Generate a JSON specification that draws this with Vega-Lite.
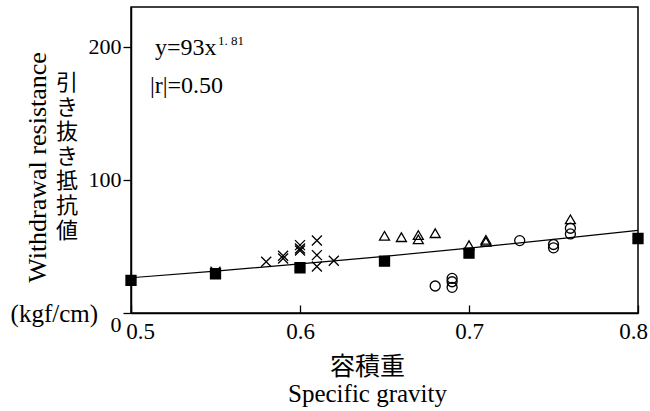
{
  "$schema": "https://vega.github.io/schema/vega-lite/v6.json",
  "autosize": "none",
  "width": 507,
  "height": 306,
  "padding": {"left": 131, "top": 7, "right": 12, "bottom": 98},
  "background": "white",
  "config": {
    "view": {"stroke": "black", "strokeWidth": 1.5},
    "axis": {"grid": false, "domainColor": "black", "domainWidth": 1.5, "tickColor": "black", "tickWidth": 1.3, "labelColor": "black", "titleColor": "black", "labelFont": "Liberation Serif", "titleFont": "Liberation Serif, Noto Sans CJK JP", "titleFontWeight": "normal"}
  },
  "datasets": {
    "pts": [
      {"sg": 0.5, "wr": 24.5, "group": "A"},
      {"sg": 0.55, "wr": 31, "group": "B"},
      {"sg": 0.55, "wr": 29.5, "group": "A"},
      {"sg": 0.6, "wr": 34, "group": "A"},
      {"sg": 0.65, "wr": 39, "group": "A"},
      {"sg": 0.70, "wr": 45, "group": "A"},
      {"sg": 0.80, "wr": 56, "group": "A"},
      {"sg": 0.58, "wr": 38.5, "group": "B"},
      {"sg": 0.59, "wr": 43, "group": "B"},
      {"sg": 0.59, "wr": 41, "group": "B"},
      {"sg": 0.60, "wr": 51, "group": "B"},
      {"sg": 0.60, "wr": 48.5, "group": "B"},
      {"sg": 0.60, "wr": 47, "group": "B"},
      {"sg": 0.61, "wr": 54.5, "group": "B"},
      {"sg": 0.61, "wr": 43.5, "group": "B"},
      {"sg": 0.61, "wr": 35, "group": "B"},
      {"sg": 0.62, "wr": 39.3, "group": "B"},
      {"sg": 0.65, "wr": 58, "group": "C"},
      {"sg": 0.66, "wr": 57, "group": "C"},
      {"sg": 0.67, "wr": 58.6, "group": "C"},
      {"sg": 0.67, "wr": 55.4, "group": "C"},
      {"sg": 0.68, "wr": 60, "group": "C"},
      {"sg": 0.70, "wr": 51, "group": "C"},
      {"sg": 0.71, "wr": 55, "group": "C"},
      {"sg": 0.71, "wr": 53.6, "group": "C"},
      {"sg": 0.76, "wr": 70.4, "group": "C"},
      {"sg": 0.73, "wr": 54.4, "group": "D"},
      {"sg": 0.75, "wr": 51.5, "group": "D"},
      {"sg": 0.75, "wr": 49, "group": "D"},
      {"sg": 0.76, "wr": 63.7, "group": "D"},
      {"sg": 0.76, "wr": 59.4, "group": "D"},
      {"sg": 0.68, "wr": 20.3, "group": "D"},
      {"sg": 0.69, "wr": 26, "group": "D"},
      {"sg": 0.69, "wr": 23.5, "group": "D"},
      {"sg": 0.69, "wr": 19.3, "group": "D"}
    ],
    "fit": [
      {"sg": 0.5, "wr": 26.5},
      {"sg": 0.55, "wr": 31.5},
      {"sg": 0.6, "wr": 36.9},
      {"sg": 0.65, "wr": 42.6},
      {"sg": 0.7, "wr": 48.8},
      {"sg": 0.75, "wr": 55.3},
      {"sg": 0.8, "wr": 62.1}
    ]
  },
  "layer": [
    {
      "data": {"name": "fit"},
      "mark": {"type": "line", "color": "black", "strokeWidth": 1.2},
      "encoding": {
        "x": {"field": "sg", "type": "quantitative", "scale": {"domain": [0.5, 0.8], "nice": false, "zero": false},
          "axis": {"values": [0.5, 0.6, 0.7, 0.8], "format": ".1f", "tickSize": -8, "labelPadding": 15, "labelFontSize": 23, "labelFlush": false,
            "labelOffset": {"condition": [{"test": "datum.value < 0.55", "value": 9}, {"test": "datum.value > 0.75", "value": -5}], "value": 0},
            "title": ["容積重", "Specific gravity"], "titleFontSize": 25, "titleLineHeight": 27, "titleX": 236, "titleY": 41, "titleBaseline": "top", "titleAlign": "center"}},
        "y": {"field": "wr", "type": "quantitative", "scale": {"domain": [0, 230], "nice": false},
          "axis": {"values": [0, 100, 200], "tickSize": 8, "labelPadding": 2, "labelFontSize": 22,
            "labelOffset": {"condition": {"test": "datum.value === 0", "value": 11}, "value": 0},
            "title": "Withdrawal resistance", "titleFontSize": 26, "titleAngle": -90, "titleX": -94, "titleY": 160, "titleAlign": "center", "titleBaseline": "middle"}}
      }
    },
    {
      "data": {"name": "pts"},
      "mark": {"type": "point", "filled": false, "strokeWidth": 1.3, "opacity": 1},
      "encoding": {
        "x": {"field": "sg", "type": "quantitative"},
        "y": {"field": "wr", "type": "quantitative"},
        "shape": {"field": "group", "type": "nominal", "scale": {"domain": ["A", "B", "C", "D"], "range": ["square", "M-1,-1L1,1M-1,1L1,-1", "triangle-up", "circle"]}, "legend": null},
        "fill": {"field": "group", "type": "nominal", "scale": {"domain": ["A", "B", "C", "D"], "range": ["black", "transparent", "transparent", "transparent"]}, "legend": null},
        "stroke": {"value": "black"},
        "size": {"field": "group", "type": "nominal", "scale": {"domain": ["A", "B", "C", "D"], "range": [100, 100, 95, 90]}, "legend": null}
      }
    },
    {
      "data": {"values": [{"t": "y=93x"}]},
      "mark": {"type": "text", "align": "left", "baseline": "alphabetic", "font": "Liberation Serif", "fontSize": 24, "color": "black"},
      "encoding": {"x": {"datum": 0.5142}, "y": {"datum": 193.9}, "text": {"field": "t"}}
    },
    {
      "data": {"values": [{"t": "1. 81"}]},
      "mark": {"type": "text", "align": "left", "baseline": "alphabetic", "font": "Liberation Serif", "fontSize": 13, "color": "black"},
      "encoding": {"x": {"datum": 0.5515}, "y": {"datum": 201.4}, "text": {"field": "t"}}
    },
    {
      "data": {"values": [{"t": "|r|=0.50"}]},
      "mark": {"type": "text", "align": "left", "baseline": "alphabetic", "font": "Liberation Serif", "fontSize": 24, "color": "black"},
      "encoding": {"x": {"datum": 0.5112}, "y": {"datum": 165.4}, "text": {"field": "t"}}
    },
    {
      "data": {"values": [{"t": "引\nき\n抜\nき\n抵\n抗\n値"}]},
      "mark": {"type": "text", "align": "center", "baseline": "top", "lineBreak": "\n", "lineHeight": 24.6, "font": "Noto Sans CJK JP", "fontSize": 22, "color": "black"},
      "encoding": {"x": {"datum": 0.4621}, "y": {"datum": 180.4}, "text": {"field": "t"}}
    },
    {
      "data": {"values": [{"t": "(kgf/cm)"}]},
      "mark": {"type": "text", "align": "right", "baseline": "middle", "font": "Liberation Serif", "fontSize": 25, "color": "black"},
      "encoding": {"x": {"datum": 0.4805}, "y": {"datum": -0.8}, "text": {"field": "t"}}
    }
  ]
}
